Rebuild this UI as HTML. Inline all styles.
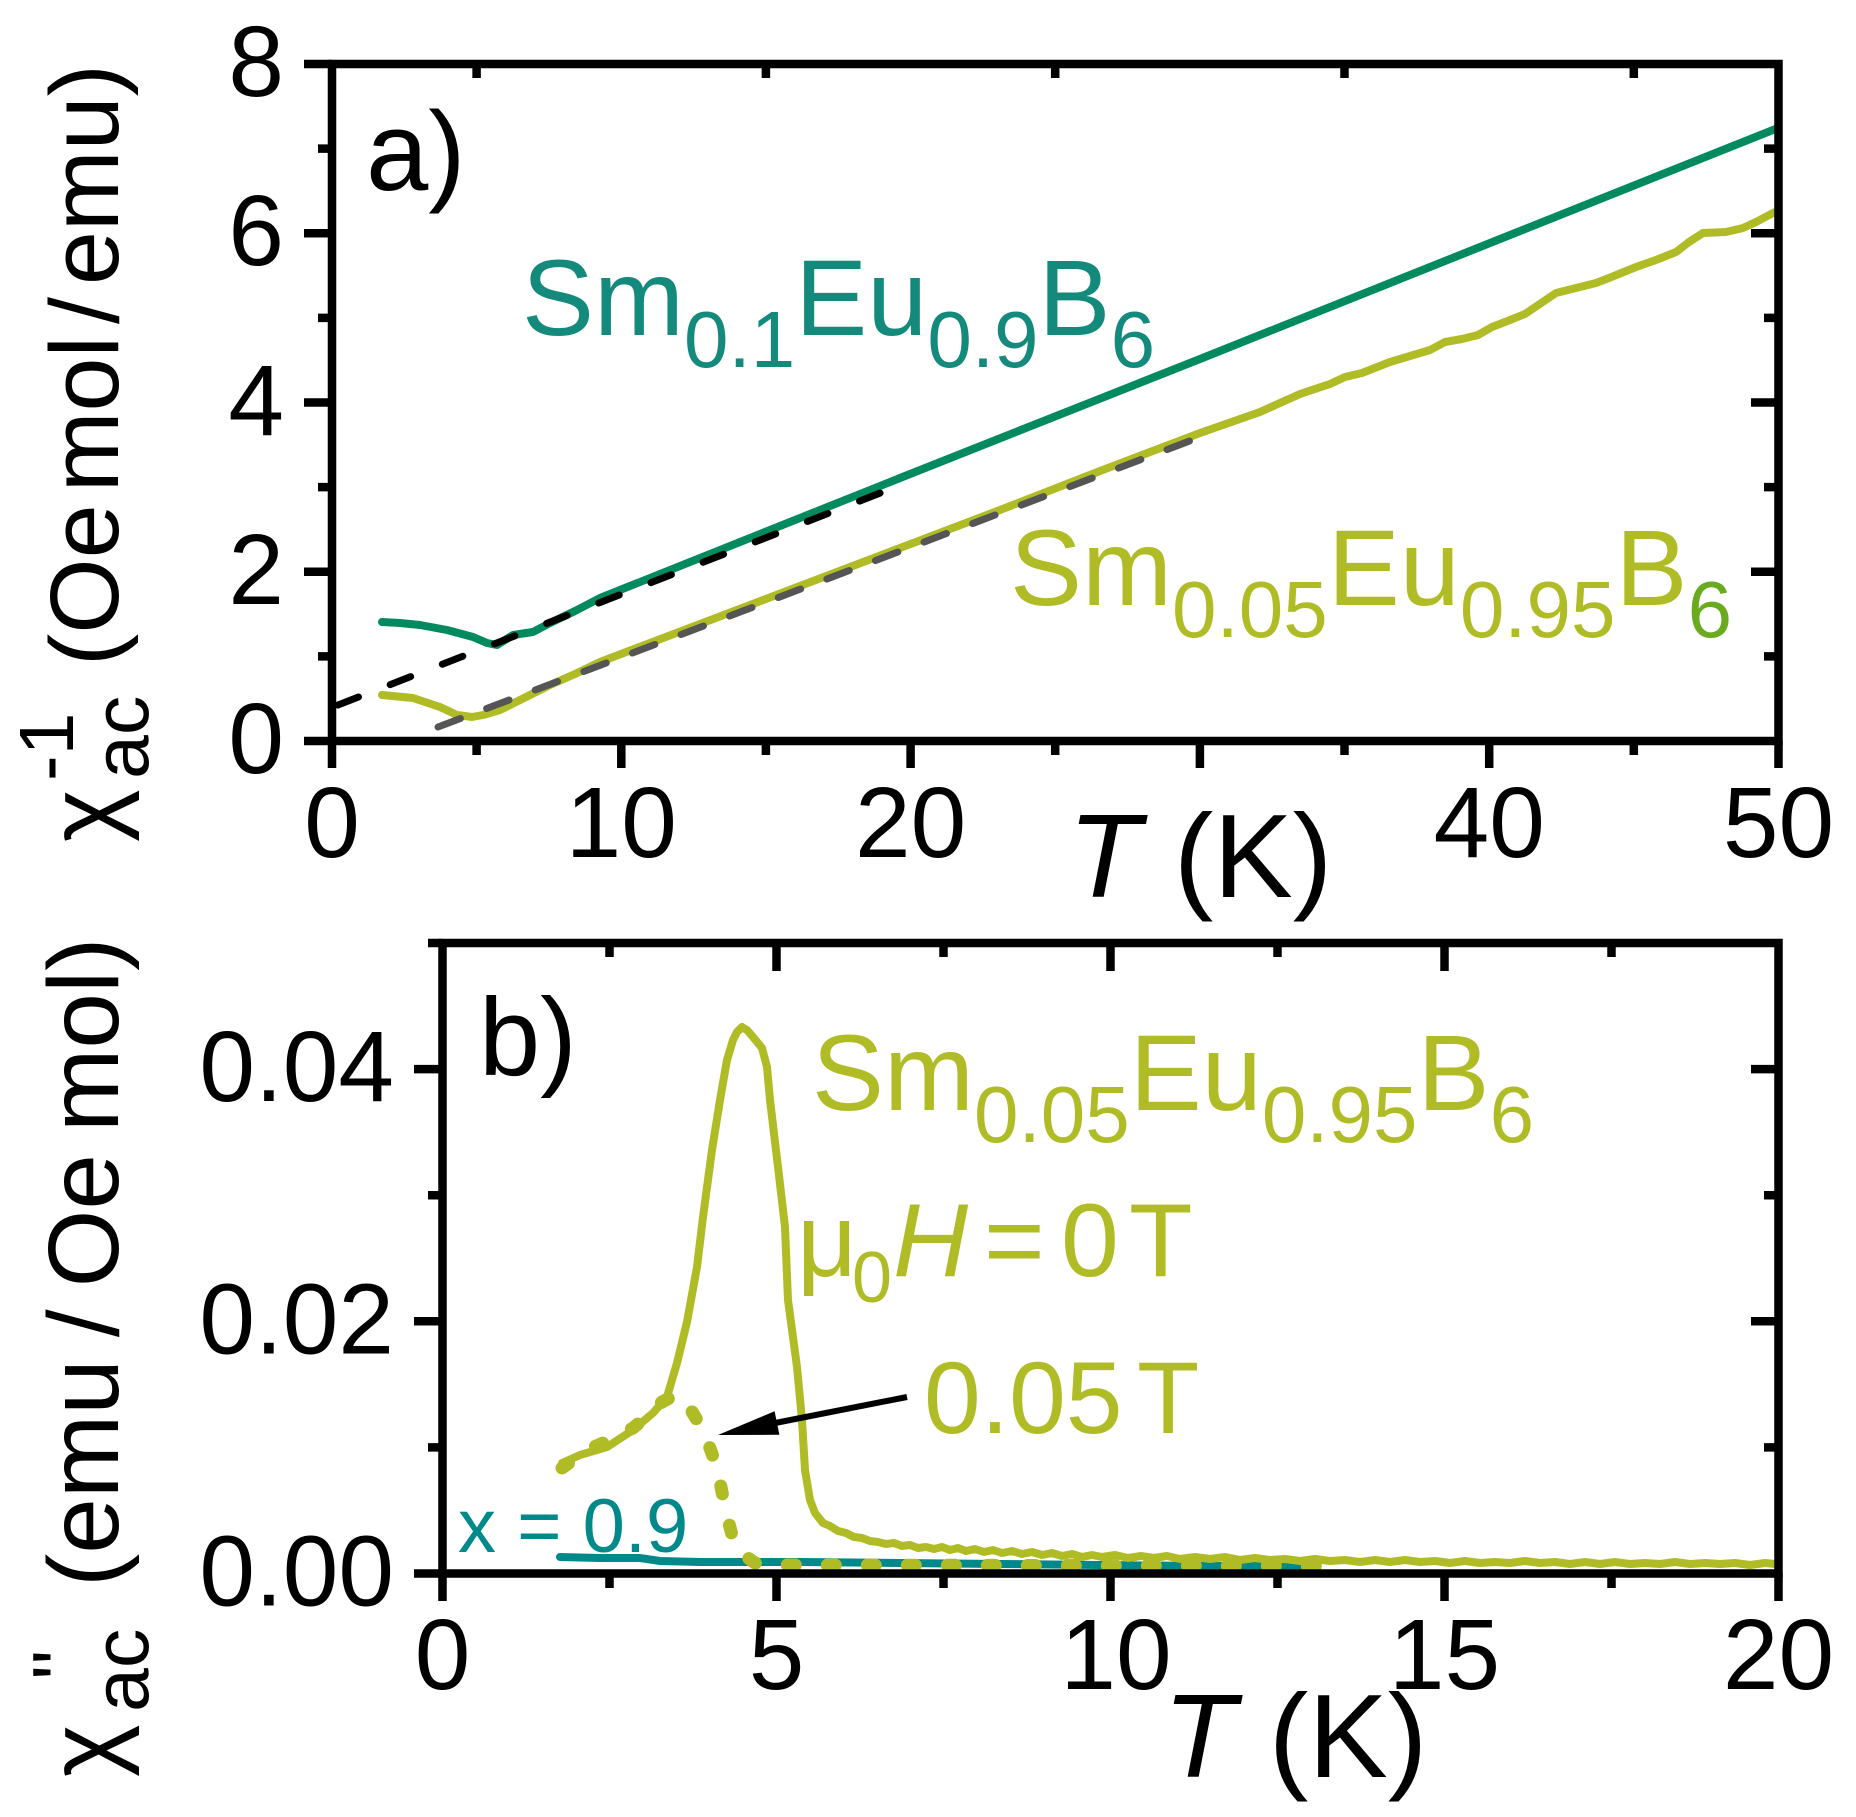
<!DOCTYPE html>
<html>
<head>
<meta charset="utf-8">
<style>
html,body{margin:0;padding:0;background:#fff;}
svg{display:block;}
text{font-family:"Liberation Sans",Arial,sans-serif;}
</style>
</head>
<body>
<svg width="1856" height="1817" viewBox="0 0 1856 1817" xmlns="http://www.w3.org/2000/svg">
<rect x="0" y="0" width="1856" height="1817" fill="#fff"/>

<!-- ================= PANEL A ================= -->
<path d="M382,622 L400,623 L420,625 L447,630 L473,637 L487,643 L497,645 L513,635 L533,632 L550,623 L575,611 L600,598 L900,478 L1200,359 L1500,239 L1778,128" fill="none" stroke="#008A5E" stroke-width="8" stroke-linejoin="round" stroke-linecap="round"/>
<path d="M382,695 L413,698 L440,707 L457,715 L472,717 L483,715 L500,710 L520,700 L550,685 L575,674 L600,662 L700,624 L800,586 L900,548 L1000,510 L1100,471 L1200,433 L1260,412 L1300,394 L1330,384 L1345,377 L1362,373 L1390,362 L1410,356 L1430,350 L1445,342 L1462,339 L1478,335 L1492,327 L1505,322 L1525,314 L1556,293 L1596,283 L1609,278 L1636,267 L1656,260 L1676,252 L1689,242 L1703,233 L1726,232 L1743,228 L1756,222 L1773,213 L1778,211" fill="none" stroke="#B0BC26" stroke-width="8" stroke-linejoin="round" stroke-linecap="round"/>
<path d="M338,705 L893,488" fill="none" stroke="#000" stroke-width="7" stroke-dasharray="22 34" stroke-linecap="round"/>
<path d="M438,727 L1208,434" fill="none" stroke="#555" stroke-width="7" stroke-dasharray="24 28" stroke-linecap="round"/>

<text x="366" y="190" font-size="112" fill="#000">a)</text>
<text x="522" y="335" font-size="108" fill="#138A7C">Sm<tspan font-size="80" dy="32">0.1</tspan><tspan dy="-32">Eu</tspan><tspan font-size="80" dy="32">0.9</tspan><tspan dy="-32">B</tspan><tspan font-size="80" dy="32">6</tspan></text>
<text x="1010" y="605" font-size="108" fill="#B0BC26">Sm<tspan font-size="80" dy="32">0.05</tspan><tspan dy="-32">Eu</tspan><tspan font-size="80" dy="32">0.95</tspan><tspan dy="-32">B</tspan><tspan font-size="80" dy="32" fill="#6AAA1E">6</tspan></text>

<g stroke="#000" stroke-width="8.5" fill="none">
<rect x="332" y="64" width="1446.5" height="677"/>
<path d="M304,741H332 M304,571.75H332 M304,402.5H332 M304,233.25H332 M304,64H332
M318,656.4H332 M318,487.1H332 M318,317.9H332 M318,148.6H332
M1778.5,571.75H1751 M1778.5,402.5H1751 M1778.5,233.25H1751
M1778.5,656.4H1764 M1778.5,487.1H1764 M1778.5,317.9H1764 M1778.5,148.6H1764
M332,741V768 M621.3,741V768 M910.6,741V768 M1199.9,741V768 M1489.2,741V768 M1778.5,741V768
M476.6,741V755 M765.9,741V755 M1055.2,741V755 M1344.5,741V755 M1633.8,741V755
M476.6,64V78 M765.9,64V78 M1055.2,64V78 M1344.5,64V78 M1633.8,64V78"/>
</g>
<g font-size="100" fill="#000" text-anchor="end">
<text x="284" y="773">0</text>
<text x="284" y="604">2</text>
<text x="284" y="435">4</text>
<text x="284" y="265">6</text>
<text x="284" y="96">8</text>
</g>
<g font-size="100" fill="#000" text-anchor="middle">
<text x="332" y="857">0</text>
<text x="621.3" y="857">10</text>
<text x="910.6" y="857">20</text>
<text x="1489.2" y="857">40</text>
<text x="1778.5" y="857">50</text>
</g>
<text x="1068" y="897" font-size="119" fill="#000"><tspan font-style="italic">T</tspan> (K)</text>

<g fill="#000">
<text transform="translate(118,842) rotate(-90)" font-size="100">χ</text>
<text transform="translate(148,779) rotate(-90)" font-size="79">ac</text>
<text transform="translate(73,781) rotate(-90)" font-size="77">-1</text>
<text transform="translate(118,666) rotate(-90)" font-size="97">(Oe<tspan dx="12">mol</tspan><tspan dx="12">/</tspan><tspan dx="12">emu)</tspan></text>
</g>

<!-- ================= PANEL B ================= -->
<path d="M560,1557 L600,1558 L640,1558 L660,1561 L700,1562 L800,1562 L900,1563 L1000,1564 L1100,1565 L1200,1566 L1310,1566" fill="none" stroke="#00898A" stroke-width="8" stroke-linecap="round"/>
<path d="M562,1463 L580,1455 L607,1447 L633,1430 L653,1413 L667,1397 L677,1363 L687,1322 L697,1267 L703,1217 L712,1150 L720,1100 L727,1060 L733,1040 L737,1032 L742,1027 L747,1030 L753,1037 L762,1048 L767,1067 L770,1100 L778,1167 L785,1227 L788,1300 L797,1367 L802,1420 L805,1470 L810,1500 L815,1513 L823,1523 L830,1526 L838,1531 L846,1533 L854,1537 L862,1538 L870,1541 L878,1542 L886,1544 L894,1543 L902,1546 L910,1545 L918,1548 L926,1547 L934,1549 L942,1547 L950,1550 L958,1548 L966,1551 L975,1549 L984,1552 L993,1550 L1002,1553 L1012,1551 L1022,1554 L1032,1552 L1042,1555 L1052,1553 L1062,1556 L1072,1554 L1082,1557 L1092,1555 L1102,1557 L1115,1555 L1128,1558 L1141,1556 L1154,1558 L1167,1556 L1180,1559 L1195,1557 L1210,1559 L1225,1557 L1240,1560 L1255,1558 L1270,1560 L1285,1559 L1300,1561 L1315,1559 L1330,1561 L1345,1560 L1360,1562 L1375,1560 L1390,1562 L1405,1560 L1420,1562 L1435,1561 L1450,1563 L1465,1561 L1480,1563 L1495,1562 L1510,1563 L1525,1561 L1540,1563 L1555,1562 L1570,1564 L1585,1562 L1600,1564 L1615,1562 L1630,1564 L1645,1563 L1660,1564 L1675,1562 L1690,1564 L1705,1563 L1720,1564 L1735,1563 L1750,1565 L1765,1563 L1775,1564" fill="none" stroke="#B0BC26" stroke-width="8" stroke-linejoin="round" stroke-linecap="round"/>
<path d="M562,1468 L587,1450 L610,1440 L633,1428 L650,1414 L662,1402 L675,1395 L688,1405 L697,1420 L707,1440 L715,1462 L721,1487 L726,1512 L732,1535 L740,1552 L755,1563 L790,1565 L1320,1566" fill="none" stroke="#B0BC26" stroke-width="13" stroke-dasharray="8 32" stroke-linecap="round" stroke-linejoin="round"/>
<path d="M907,1397 L765,1425" stroke="#000" stroke-width="6" fill="none"/>
<polygon points="718,1435 774.6,1411.2 779.4,1434.8" fill="#000"/>

<text x="479" y="1075" font-size="110" fill="#000">b)</text>
<text x="812" y="1110" font-size="108" fill="#B0BC26">Sm<tspan font-size="80" dy="32">0.05</tspan><tspan dy="-32">Eu</tspan><tspan font-size="80" dy="32">0.95</tspan><tspan dy="-32">B</tspan><tspan font-size="80" dy="32">6</tspan></text>
<g fill="#B0BC26">
<text x="797" y="1276" font-size="104">μ</text>
<text x="852" y="1302" font-size="72">0</text>
<text x="893" y="1276" font-size="104" font-style="italic">H</text>
<text x="984" y="1276" font-size="104">=</text>
<text x="1061" y="1276" font-size="104">0</text>
<text x="1129" y="1276" font-size="104">T</text>
<text x="924" y="1433" font-size="102">0.05</text>
<text x="1137" y="1433" font-size="102">T</text>
</g>
<text x="458" y="1552" font-size="76" fill="#00898A">x = 0.9</text>

<g stroke="#000" stroke-width="8.5" fill="none">
<rect x="442.5" y="943" width="1336" height="630.5"/>
<path d="M414,1573.5H442.5 M414,1321.3H442.5 M414,1069.1H442.5
M428,1447.4H442.5 M428,1195.2H442.5 M428,943H442.5
M1778.5,1321.3H1751 M1778.5,1069.1H1751
M1778.5,1447.4H1764 M1778.5,1195.2H1764
M442.5,1573.5V1601 M776.5,1573.5V1601 M1110.5,1573.5V1601 M1444.5,1573.5V1601 M1778.5,1573.5V1601
M609.5,1573.5V1588 M943.5,1573.5V1588 M1277.5,1573.5V1588 M1611.5,1573.5V1588
M776.5,943V971 M1110.5,943V971 M1444.5,943V971
M609.5,943V957 M943.5,943V957 M1277.5,943V957 M1611.5,943V957"/>
</g>
<g font-size="100" fill="#000" text-anchor="end">
<text x="394" y="1605.5">0.00</text>
<text x="394" y="1353.3">0.02</text>
<text x="394" y="1101.1">0.04</text>
</g>
<g font-size="100" fill="#000" text-anchor="middle">
<text x="442.5" y="1689">0</text>
<text x="776.5" y="1689">5</text>
<text x="1116" y="1689">10</text>
<text x="1444.5" y="1689">15</text>
<text x="1778.5" y="1689">20</text>
</g>
<text x="1163" y="1777" font-size="119" fill="#000"><tspan font-style="italic">T</tspan> (K)</text>

<g fill="#000">
<text transform="translate(118,1777) rotate(-90)" font-size="100">χ</text>
<text transform="translate(148,1712) rotate(-90)" font-size="79">ac</text>
<text transform="translate(88,1680) rotate(-90)" font-size="80">''</text>
<text transform="translate(118,1587) rotate(-90)" font-size="100">(emu<tspan dx="22">/</tspan><tspan dx="22">Oe</tspan><tspan dx="22">mol)</tspan></text>
</g>
</svg>
</body>
</html>
